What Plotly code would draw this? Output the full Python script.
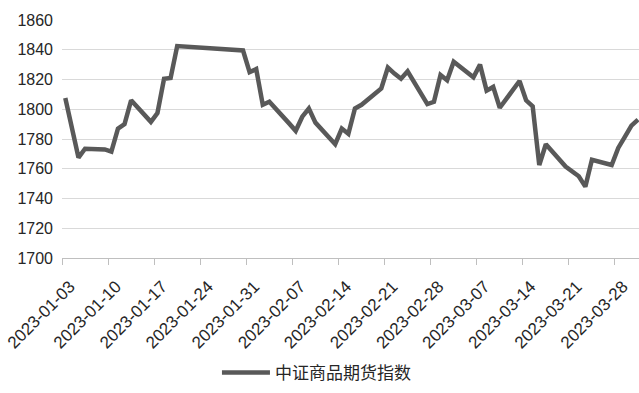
import pandas as pd
import plotly.graph_objects as go

dates = [
    "2023-01-03", "2023-01-04", "2023-01-05", "2023-01-06", "2023-01-09", "2023-01-10",
    "2023-01-11", "2023-01-12", "2023-01-13", "2023-01-16", "2023-01-17", "2023-01-18",
    "2023-01-19", "2023-01-20", "2023-01-30", "2023-01-31", "2023-02-01", "2023-02-02",
    "2023-02-03", "2023-02-06", "2023-02-07", "2023-02-08", "2023-02-09", "2023-02-10",
    "2023-02-13", "2023-02-14", "2023-02-15", "2023-02-16", "2023-02-17", "2023-02-20",
    "2023-02-21", "2023-02-22", "2023-02-23", "2023-02-24", "2023-02-27", "2023-02-28",
    "2023-03-01", "2023-03-02", "2023-03-03", "2023-03-06", "2023-03-07", "2023-03-08",
    "2023-03-09", "2023-03-10", "2023-03-13", "2023-03-14", "2023-03-15", "2023-03-16",
    "2023-03-17", "2023-03-20", "2023-03-21", "2023-03-22", "2023-03-23", "2023-03-24",
    "2023-03-27", "2023-03-28", "2023-03-29", "2023-03-30", "2023-03-31",
]
index_values = [
    1807.5, 1787.5, 1767.5, 1773.5, 1773.0, 1771.5,
    1787.0, 1790.0, 1806.0, 1791.5, 1797.5, 1820.5,
    1821.0, 1842.5, 1839.5, 1825.0, 1827.0, 1803.0,
    1805.0, 1790.5, 1785.5, 1795.0, 1800.5, 1791.0,
    1776.5, 1787.0, 1783.5, 1800.5, 1803.0, 1814.0,
    1828.0, 1824.0, 1820.5, 1825.5, 1803.5, 1805.0,
    1823.0, 1819.5, 1832.0, 1821.5, 1830.0, 1812.5,
    1815.0, 1801.0, 1819.0, 1806.0, 1802.0, 1762.5,
    1776.5, 1761.5, 1758.5, 1755.0, 1748.0, 1766.0,
    1762.5, 1774.0, 1781.5, 1789.0, 1793.0,
]
series_name = "中证商品期货指数"
y_ticks = [1700, 1720, 1740, 1760, 1780, 1800, 1820, 1840, 1860]

# points sit in the middle of each day's slot (date axis, between tick marks)
x_vals = pd.to_datetime(dates) + pd.Timedelta(hours=12)

font_family = "Arial, 'Liberation Sans', 'Noto Sans CJK SC', sans-serif"
text_color = "#262626"

fig = go.Figure()
fig.add_trace(go.Scatter(
    x=x_vals, y=index_values, mode="lines", name=series_name,
    line=dict(color="#595959", width=4.5),
))

fig.update_layout(
    width=639, height=393,
    margin=dict(l=62, r=0, t=20, b=135, autoexpand=False),
    paper_bgcolor="white", plot_bgcolor="white",
    font=dict(family=font_family, size=16, color=text_color),
    showlegend=True,
    legend=dict(
        orientation="h", x=0.441, xanchor="center",
        y=-0.483, yanchor="middle",
        font=dict(family="'Noto Sans CJK SC', sans-serif", size=17, color=text_color),
        itemwidth=48,
    ),
)
fig.update_xaxes(
    type="date",
    range=[pd.Timestamp("2023-01-03"), pd.Timestamp("2023-01-03") + pd.Timedelta(days=87.65)],
    tick0="2023-01-03", dtick=7 * 24 * 3600 * 1000,
    tickformat="%Y-%m-%d", tickangle=-45,
    ticks="outside", ticklen=6, tickcolor="#bfbfbf",
    showline=True, linecolor="#bfbfbf", linewidth=1,
    showgrid=False, zeroline=False,
    ticklabelshift=8, ticklabelstandoff=5,
    tickfont=dict(size=17, color=text_color),
    automargin=False,
)
fig.update_yaxes(
    range=[1700, 1860], tickvals=y_ticks,
    showgrid=True, gridcolor="#d9d9d9", gridwidth=1,
    zeroline=False, showline=False, ticks="",
    ticklabelstandoff=8,
    tickfont=dict(size=16, color=text_color),
    automargin=False,
)

fig.write_html("out.html")
